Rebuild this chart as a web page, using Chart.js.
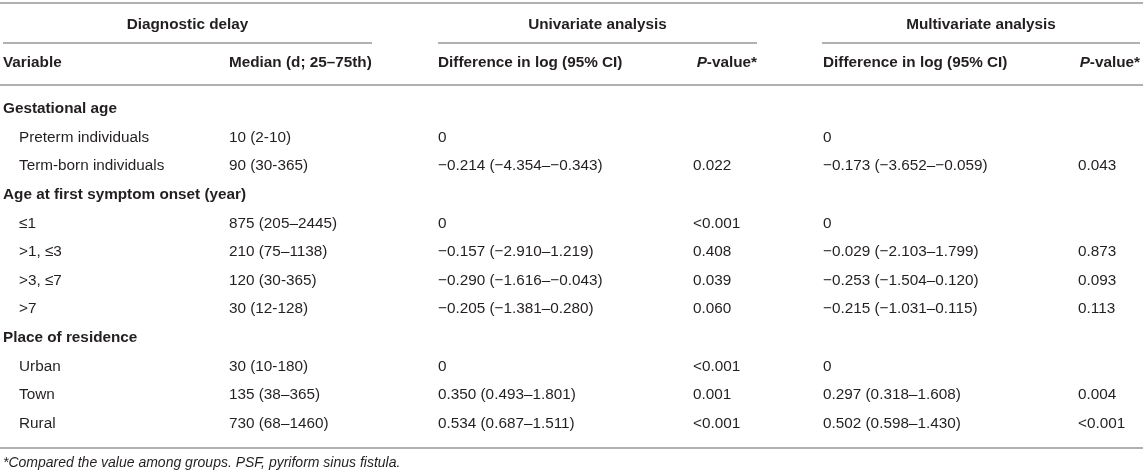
<!DOCTYPE html>
<html>
<head>
<meta charset="utf-8">
<script src="https://cdn.jsdelivr.net/npm/chart.js@4"></script>
<style>
html,body{margin:0;padding:0;background:#fff;}
canvas{display:block;}
</style>
</head>
<body>
<canvas id="c" width="1143" height="474"></canvas>
<script>
// ---- table content ----
const groupHeaders = ["Diagnostic delay", "Univariate analysis", "Multivariate analysis"];
const columnHeaders = ["Variable", "Median (d; 25–75th)", "Difference in log (95% CI)", "P-value*", "Difference in log (95% CI)", "P-value*"];
const variables = ["Gestational age", "Preterm individuals", "Term-born individuals",
  "Age at first symptom onset (year)", "≤1", ">1, ≤3", ">3, ≤7", ">7",
  "Place of residence", "Urban", "Town", "Rural"];
const isSection = [true, false, false, true, false, false, false, false, true, false, false, false];
const medians = ["", "10 (2-10)", "90 (30-365)", "", "875 (205–2445)", "210 (75–1138)", "120 (30-365)", "30 (12-128)", "", "30 (10-180)", "135 (38–365)", "730 (68–1460)"];
const uniDiff = ["", "0", "−0.214 (−4.354–−0.343)", "", "0", "−0.157 (−2.910–1.219)", "−0.290 (−1.616–−0.043)", "−0.205 (−1.381–0.280)", "", "0", "0.350 (0.493–1.801)", "0.534 (0.687–1.511)"];
const uniP = ["", "", "0.022", "", "<0.001", "0.408", "0.039", "0.060", "", "<0.001", "0.001", "<0.001"];
const multiDiff = ["", "0", "−0.173 (−3.652–−0.059)", "", "0", "−0.029 (−2.103–1.799)", "−0.253 (−1.504–0.120)", "−0.215 (−1.031–0.115)", "", "0", "0.297 (0.318–1.608)", "0.502 (0.598–1.430)"];
const multiP = ["", "", "0.043", "", "", "0.873", "0.093", "0.113", "", "", "0.004", "<0.001"];
const footnote = "*Compared the value among groups. PSF, pyriform sinus fistula.";

// ---- layout (scale units: x in px columns, y in row units) ----
const ROW_H = 28.6, FIRST_ROW_PX = 109, H = 474;
const yMin = -FIRST_ROW_PX / ROW_H;
const yMax = yMin + H / ROW_H;
const pxToRow = p => (p - FIRST_ROW_PX) / ROW_H;
const colX = {variable: 3, indent: 19, median: 229, uni: 438, uniP: 693, multi: 823, multiP: 1078};
const groupSpans = [[3, 372], [438, 757], [822, 1140]];
const yTopRule = pxToRow(3), yGroup = pxToRow(25), yGroupRule = pxToRow(43),
      yHeader = pxToRow(63), yHeaderRule = pxToRow(85), yBottomRule = pxToRow(448), yFoot = pxToRow(463);

const FONT = '"Liberation Sans", Arial, Helvetica, sans-serif';
const TEXT = '#231f20', RULE = '#b0b0b0';
const SIZE = '15.3px ';

const tablePlugin = {
  id: 'table',
  afterDraw(chart) {
    const ctx = chart.ctx, sx = chart.scales.x, sy = chart.scales.y;
    const X = v => sx.getPixelForValue(v), Y = v => sy.getPixelForValue(v);
    ctx.save();
    // rules
    ctx.strokeStyle = RULE; ctx.lineWidth = 1.8;
    const hline = (x1, x2, y) => { ctx.beginPath(); ctx.moveTo(X(x1), Y(y)); ctx.lineTo(X(x2), Y(y)); ctx.stroke(); };
    hline(0, 1143, yTopRule);
    groupSpans.forEach(s => hline(s[0], s[1], yGroupRule));
    hline(0, 1143, yHeaderRule);
    hline(0, 1143, yBottomRule);

    ctx.fillStyle = TEXT; ctx.textBaseline = 'middle';
    const bold = 'bold ' + SIZE + FONT, reg = SIZE + FONT;
    // group headers
    ctx.font = bold; ctx.textAlign = 'center';
    groupHeaders.forEach((g, i) => ctx.fillText(g, X((groupSpans[i][0] + groupSpans[i][1]) / 2), Y(yGroup)));
    // column headers
    ctx.textAlign = 'left';
    ctx.fillText(columnHeaders[0], X(colX.variable), Y(yHeader));
    ctx.fillText(columnHeaders[1], X(colX.median), Y(yHeader));
    ctx.fillText(columnHeaders[2], X(colX.uni), Y(yHeader));
    ctx.fillText(columnHeaders[4], X(colX.multi), Y(yHeader));
    const pHeader = (label, rightX) => {
      const first = label.charAt(0), rest = label.slice(1);
      ctx.font = bold; const wr = ctx.measureText(rest).width;
      ctx.font = 'italic bold ' + SIZE + FONT; const wf = ctx.measureText(first).width;
      const x0 = X(rightX) - wr - wf;
      ctx.fillText(first, x0, Y(yHeader));
      ctx.font = bold; ctx.fillText(rest, x0 + wf, Y(yHeader));
    };
    pHeader(columnHeaders[3], groupSpans[1][1]);
    pHeader(columnHeaders[5], groupSpans[2][1]);
    // body rows
    variables.forEach((v, i) => {
      const y = Y(i);
      if (isSection[i]) { ctx.font = bold; ctx.fillText(v, X(colX.variable), y); return; }
      ctx.font = reg;
      ctx.fillText(v, X(colX.indent), y);
      ctx.fillText(medians[i], X(colX.median), y);
      ctx.fillText(uniDiff[i], X(colX.uni), y);
      ctx.fillText(uniP[i], X(colX.uniP), y);
      ctx.fillText(multiDiff[i], X(colX.multi), y);
      ctx.fillText(multiP[i], X(colX.multiP), y);
    });
    // footnote
    ctx.font = 'italic 14px ' + FONT;
    ctx.fillText(footnote, X(colX.variable), Y(yFoot));
    ctx.restore();
  }
};

new Chart(document.getElementById('c'), {
  type: 'scatter',
  data: { datasets: [{ data: [], pointRadius: 0 }] },
  options: {
    responsive: false,
    animation: false,
    devicePixelRatio: 1,
    layout: { padding: 0 },
    plugins: { legend: { display: false }, tooltip: { enabled: false } },
    scales: {
      x: { type: 'linear', min: 0, max: 1143, display: false },
      y: { type: 'linear', min: yMin, max: yMax, reverse: true, display: false }
    }
  },
  plugins: [tablePlugin]
});
</script>
</body>
</html>
